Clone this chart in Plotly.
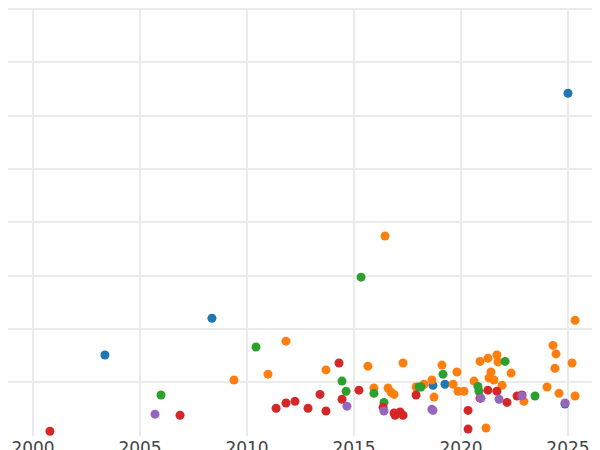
import plotly.graph_objects as go

blue_x = [2003.36, 2008.36, 2025.0, 2019.25, 2018.69, 2024.86]
blue_y = [0.51, 1.20, 5.42, -0.04, -0.06, -0.41]

orange_x = [2016.45, 2011.82, 2009.39, 2010.98, 2013.69, 2015.65, 2015.93, 2016.59, 2016.73, 2016.87,
            2017.29, 2017.90, 2018.27, 2018.64, 2018.74, 2019.11, 2019.63, 2019.81, 2019.86, 2020.14,
            2020.61, 2020.89, 2021.17, 2021.26, 2021.31, 2021.40, 2021.54, 2021.68, 2021.73, 2021.92,
            2022.34, 2022.94, 2024.02, 2024.30, 2024.39, 2024.44, 2024.58, 2025.19, 2025.33, 2025.33]
orange_y = [2.74, 0.77, 0.04, 0.15, 0.23, 0.30, -0.11, -0.11, -0.19, -0.23,
            0.36, -0.09, -0.04, 0.04, -0.28, 0.32, -0.04, 0.19, -0.17, -0.17,
            0.02, 0.39, -0.86, 0.45, 0.08, 0.19, 0.04, 0.51, 0.38, -0.06,
            0.17, -0.36, -0.09, 0.69, 0.26, 0.53, -0.21, 0.36, 1.16, -0.26]

green_x = [2005.98, 2010.42, 2015.33, 2014.44, 2014.63, 2015.93, 2016.40, 2018.04, 2018.13, 2019.16,
           2020.79, 2020.84, 2022.06, 2023.46]
green_y = [-0.24, 0.66, 1.97, 0.02, -0.17, -0.21, -0.38, -0.09, -0.09, 0.15,
           -0.08, -0.17, 0.39, -0.26]

red_x = [2000.79, 2006.87, 2011.36, 2011.82, 2012.24, 2012.85, 2013.41, 2013.69, 2014.30, 2014.44,
         2015.23, 2016.36, 2016.87, 2016.92, 2017.15, 2017.29, 2017.90, 2020.33, 2020.33, 2020.89,
         2021.26, 2021.68, 2022.15, 2022.62, 2022.85]
red_y = [-0.92, -0.62, -0.49, -0.39, -0.36, -0.49, -0.23, -0.54, 0.36, -0.32,
         -0.15, -0.47, -0.58, -0.62, -0.56, -0.62, -0.24, -0.53, -0.88, -0.30,
         -0.15, -0.17, -0.38, -0.26, -0.24]

purple_x = [2005.70, 2014.67, 2016.40, 2018.64, 2018.69, 2020.93, 2021.78, 2022.85, 2024.86]
purple_y = [-0.60, -0.45, -0.54, -0.51, -0.53, -0.30, -0.32, -0.26, -0.39]

series = [
    (blue_x, blue_y, "#1f77b4"),
    (orange_x, orange_y, "#ff7f0e"),
    (green_x, green_y, "#2ca02c"),
    (red_x, red_y, "#d62728"),
    (purple_x, purple_y, "#9467bd"),
]

fig = go.Figure()
for xs, ys, c in series:
    fig.add_trace(go.Scatter(x=xs, y=ys, mode="markers",
                             marker=dict(color=c, size=9), showlegend=False))

fig.update_layout(
    width=600, height=450, template="plotly_white",
    margin=dict(l=0, r=0, t=0, b=22, pad=0, autoexpand=False),
    plot_bgcolor="white", paper_bgcolor="white",
    font=dict(family="DejaVu Sans", size=17, color="#444"),
)
fig.update_xaxes(range=[1998.83, 2026.87], tickvals=[2000, 2005, 2010, 2015, 2020, 2025],
                 showgrid=True, gridcolor="#ebebeb", gridwidth=2, zeroline=False, showline=False,
                 ticklen=0, tickfont=dict(size=17))
fig.update_yaxes(range=[-1.01, 7.02], dtick=1, showticklabels=False,
                 showgrid=True, gridcolor="#ebebeb", gridwidth=2, zeroline=False)

fig.write_html("out.html")
